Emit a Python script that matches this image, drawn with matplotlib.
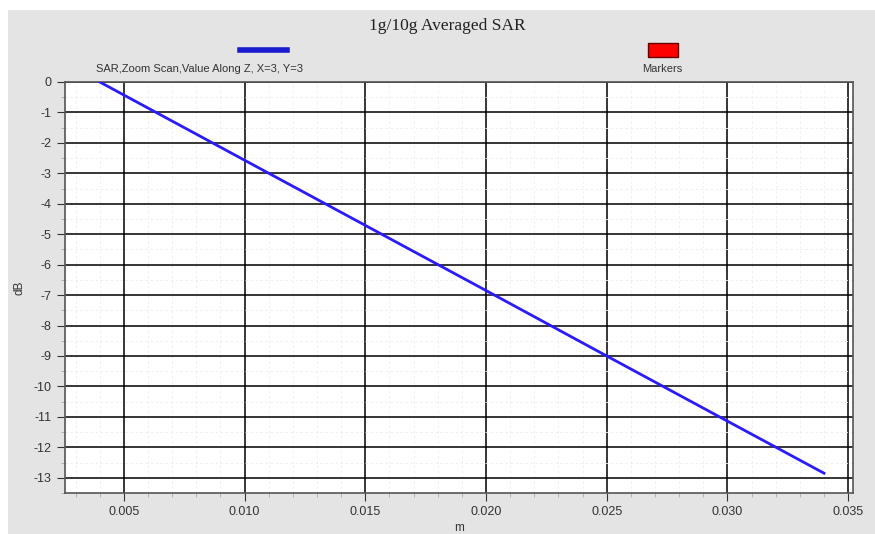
import matplotlib.pyplot as plt
import matplotlib.patches as patches
import numpy as np

# data
z_m = [0.004, 0.010, 0.015, 0.020, 0.025, 0.030, 0.034]
sar_db = [0.0, -2.57, -4.71, -6.85, -9.0, -11.14, -12.85]
x_ticks = [0.005, 0.010, 0.015, 0.020, 0.025, 0.030, 0.035]
x_labels = ['0.005', '0.010', '0.015', '0.020', '0.025', '0.030', '0.035']
y_ticks = list(range(0, -14, -1))

plt.rcParams['font.family'] = ['Liberation Sans', 'DejaVu Sans']

W, H = 875, 534
fig = plt.figure(figsize=(W / 100, H / 100), dpi=100)
fig.patch.set_facecolor('white')
# gray panel behind everything
fig.patches.append(patches.Rectangle((8 / W, 0), 1 - 8 / W, 1 - 10 / H,
                                     transform=fig.transFigure, facecolor='#e4e4e4',
                                     edgecolor='none', zorder=-10))

ax = fig.add_axes([65 / W, 1 - 493 / H, (853 - 65) / W, (493 - 82) / H])
ax.set_facecolor('white')
ax.plot(z_m, sar_db, color='#2a1bff', lw=2, zorder=3)

ax.set_xlim(0.00256, 0.0352)
ax.set_ylim(-13.5, 0)
ax.set_xticks(x_ticks)
ax.set_xticklabels(x_labels)
ax.set_yticks(y_ticks)
ax.set_yticklabels([str(v) for v in y_ticks])
ax.set_xticks(np.arange(0.003, 0.0352, 0.001), minor=True)
ax.set_yticks(np.arange(-13.5, 0, 0.5), minor=True)
ax.grid(which='major', color='black', lw=1.1)
ax.grid(which='minor', color='#eeeeee', lw=0.6, ls=(0, (3, 3)))
ax.tick_params(which='major', length=6, color='#333333', labelsize=9, labelcolor='#333333')
ax.tick_params(which='minor', length=3, color='#aaaaaa')
for s in ax.spines.values():
    s.set_color('#555555')
    s.set_linewidth(1.2)

ax.set_xlabel('m', fontsize=8.5, color='#333333', labelpad=3)
ax.set_ylabel('dB', fontsize=8.5, color='#333333', labelpad=6)

fig.text(447 / W, 1 - 26 / H, '1g/10g Averaged SAR', ha='center', va='center',
         fontsize=12.5, family='Liberation Serif', color='#222222')

# legend entries
fig.add_artist(plt.Line2D([240 / W, 287 / W], [1 - 50 / H, 1 - 50 / H],
                          color='#1a1ad0', lw=4, transform=fig.transFigure))
fig.text(200 / W, 1 - 69 / H, 'SAR,Zoom Scan,Value Along Z, X=3, Y=3',
         ha='center', va='center', fontsize=8, color='#333333')
fig.patches.append(patches.Rectangle((648 / W, 1 - 57 / H), 30 / W, 14 / H,
                                     transform=fig.transFigure, facecolor='#ff0000',
                                     edgecolor='#660000', lw=1))
fig.text(662 / W, 1 - 69 / H, 'Markers', ha='center', va='center',
         fontsize=8, color='#333333')

fig.savefig('out.png', dpi=100)
